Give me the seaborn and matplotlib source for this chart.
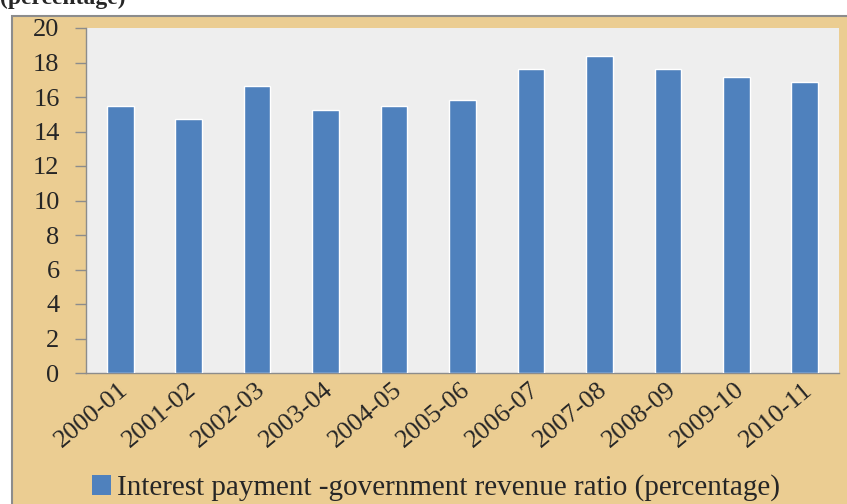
import matplotlib
matplotlib.use("Agg")
import matplotlib.pyplot as plt
import seaborn as sns
import pandas as pd
from matplotlib.patches import Rectangle, Patch

years = ["2000-01", "2001-02", "2002-03", "2003-04", "2004-05", "2005-06",
         "2006-07", "2007-08", "2008-09", "2009-10", "2010-11"]
ratio = [15.45, 14.75, 16.65, 15.25, 15.5, 15.85, 17.65, 18.35, 17.65, 17.15, 16.85]
yticks = [0, 2, 4, 6, 8, 10, 12, 14, 16, 18, 20]
series_name = "Interest payment -government revenue ratio (percentage)"

sns.set_theme(style="white")
plt.rcParams["font.family"] = ["Liberation Serif", "DejaVu Serif"]

W, H = 847, 504
fig = plt.figure(figsize=(W / 100, H / 100), dpi=100)
fig.patch.set_facecolor("white")

# parchment chart area
fig.patches.append(Rectangle((12 / W, -0.01), 1.0, (H - 16) / H + 0.01,
                             transform=fig.transFigure, facecolor="#EBCD92",
                             edgecolor="#8C8C8C", linewidth=1.5, zorder=-5))

ax = fig.add_axes([86 / W, (H - 373) / H, (839 - 86) / W, (373 - 28) / H])
ax.set_zorder(2)
ax.set_facecolor("#EEEEEE")

df = pd.DataFrame({"year": years, "ratio": ratio})
sns.barplot(data=df, x="year", y="ratio", color="#4F81BD", saturation=1,
            width=0.39, ax=ax, zorder=3)

ax.set_ylim(0, 20)
ax.set_xlim(-0.5, len(years) - 0.5)
ax.set_yticks(yticks)
ax.set_yticklabels([str(v) for v in yticks], fontsize=19)
ax.set_xlabel("")
ax.set_ylabel("")

ax.set_xticks(range(len(years)))
ax.set_xticklabels(years, rotation=40, ha="right", rotation_mode="anchor", fontsize=19)
ax.set_xticks([i - 0.5 for i in range(len(years) + 1)], minor=True)
ax.tick_params(axis="x", which="major", length=0, pad=4)
ax.tick_params(axis="x", which="minor", length=7, width=1, color="#8C8C8C", direction="out")
ax.tick_params(axis="y", length=8, width=1, color="#8C8C8C", direction="out", left=True, pad=11)

for s in ["top", "right"]:
    ax.spines[s].set_visible(False)
for s in ["left", "bottom"]:
    ax.spines[s].set_color("#8C8C8C")
    ax.spines[s].set_linewidth(1)

for lab in ax.get_xticklabels():
    lab.set_transform(lab.get_transform() + matplotlib.transforms.ScaledTranslation(-2 / 100, 0, fig.dpi_scale_trans))

handle = Patch(facecolor="#4F81BD", edgecolor="none")
fig.legend([handle], [series_name], loc="center left",
           bbox_to_anchor=(92 / W, 1 - 488 / H), frameon=False, fontsize=21,
           handlelength=0.65, handleheight=0.65, handletextpad=0.2,
           borderpad=0, borderaxespad=0)

fig.text(0.0, 1 - 4 / H, "(percentage)", fontsize=17, fontweight="bold", va="baseline", ha="left")

fig.savefig("out.png", dpi=100)
